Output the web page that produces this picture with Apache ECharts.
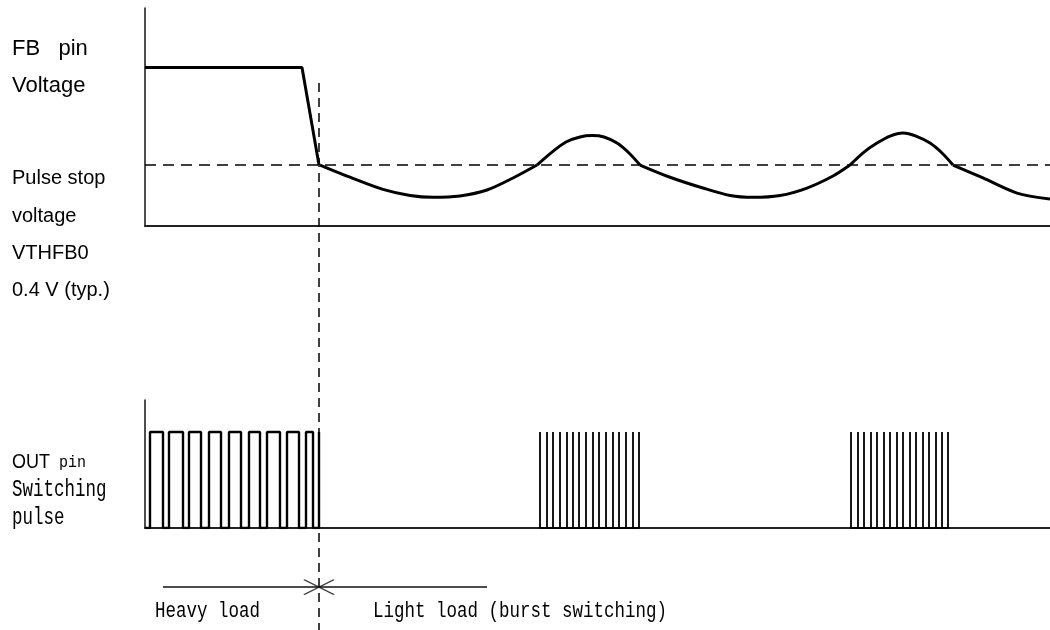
<!DOCTYPE html>
<html>
<head>
<meta charset="utf-8">
<title>FB pin voltage / OUT pin switching</title>
<script src="https://cdn.jsdelivr.net/npm/echarts@6/dist/echarts.min.js"></script>
<style>
html,body{margin:0;padding:0;background:#fff;}
#chart{width:1050px;height:630px;}
</style>
</head>
<body>
<div id="chart"></div>
<script>
// shared time axis (arbitrary units, 0 = start of trace)
var T_MAX = 905;

// FB pin voltage [t, V] - one array per stroke so the corners stay sharp
var fbDrop  = [[0, 1.04], [157, 1.04], [174, 0.40]];
var fbDip1  = [[175, 0.40], [205, 0.32], [238, 0.24], [265, 0.20], [288, 0.188], [315, 0.197], [342, 0.236], [368, 0.315], [392, 0.40]];
var fbBump1 = [[392, 0.40], [407, 0.485], [421, 0.551], [435, 0.584], [447, 0.593], [459, 0.584], [472, 0.544], [484, 0.479], [495, 0.40]];
var fbDip2  = [[495, 0.40], [525, 0.32], [558, 0.249], [585, 0.20], [608, 0.188], [635, 0.20], [662, 0.249], [688, 0.328], [705, 0.40]];
var fbBump2 = [[705, 0.40], [719, 0.485], [732, 0.544], [745, 0.59], [758, 0.61], [771, 0.59], [785, 0.544], [797, 0.479], [808, 0.40]];
var fbDip3  = [[808, 0.40], [838, 0.315], [872, 0.216], [905, 0.177]];
var VTHFB0 = 0.4;     // pulse stop voltage
var FB_MAX = 1.43;

// OUT pin, heavy load: rising / falling edges
var heavyRise = [5, 24, 44, 64, 84, 104, 122, 142, 161, 174];
var heavyFall = [18, 38, 56, 76, 96, 115, 135, 154, 168, 174];
// OUT pin, light load: burst pulses
var burst1 = [395, 402, 408, 415, 422, 428, 434, 441, 448, 454, 461, 468, 474, 481, 488, 494];
var burst2 = [706, 713, 719, 726, 732, 739, 745, 752, 758, 765, 771, 778, 784, 791, 797, 803];
var PULSE_HIGH = 0.75;

// heavy -> light load change
var loadSwitchT = 174;
var loadBar = [18, 342];
var heavyLabel = 'Heavy load';
var lightLabel = 'Light load (burst switching)';

// rows of the annotation layer (page rows, top = 0)
var markerTop = 83, loadBarRow = 587;

var INK = '#000';
var SANS = '"Liberation Sans", Arial, sans-serif';
var MONO = '"Liberation Mono", monospace';

function pulseTrain(rise, fall){
	var pts = [[0, 0]];
	for(var i = 0; i < rise.length; i++){
		pts.push([rise[i], 0], [rise[i], PULSE_HIGH], [fall[i], PULSE_HIGH], [fall[i], 0]);
	}
	return pts;
}
function spikes(ts){
	var pts = [];
	ts.forEach(function(t){
		pts.push([t, 0], [t, PULSE_HIGH], [t, 0]);
	});
	return pts;
}
function axisPair(idx, yMax, inverse, show){
	return {
		x: {gridIndex: idx, type: 'value', min: 0, max: T_MAX, show: show,
			axisLine: {show: show, onZero: false, lineStyle: {color: '#222', width: 2}},
			axisTick: {show: false}, axisLabel: {show: false}, splitLine: {show: false}},
		y: {gridIndex: idx, type: 'value', min: 0, max: yMax, inverse: !!inverse, show: show,
			axisLine: {show: show, onZero: false, lineStyle: {color: '#222', width: 1.6}},
			axisTick: {show: false}, axisLabel: {show: false}, splitLine: {show: false}}
	};
}

var top_ = axisPair(0, FB_MAX, false, true);
var bot_ = axisPair(1, 1, false, true);
var ovl_ = axisPair(2, 630, true, false);

var series = [];
[fbDrop, fbDip1, fbBump1, fbDip2, fbBump2, fbDip3].forEach(function(pts, i){
	series.push({
		type: 'line', xAxisIndex: 0, yAxisIndex: 0, data: pts,
		smooth: i > 0 ? 0.3 : false, symbol: 'none', silent: true, z: 4,
		lineStyle: {color: INK, width: 3}
	});
});
// threshold VTHFB0
series.push({
	type: 'line', xAxisIndex: 0, yAxisIndex: 0, data: [[0, VTHFB0], [T_MAX, VTHFB0]],
	symbol: 'none', silent: true, z: 3,
	lineStyle: {color: INK, width: 1.6, type: [11, 7]}
});
// OUT pin
series.push({
	type: 'line', xAxisIndex: 1, yAxisIndex: 1, data: pulseTrain(heavyRise, heavyFall),
	symbol: 'none', silent: true, lineStyle: {color: INK, width: 2.4}
});
[burst1, burst2].forEach(function(b){
	series.push({
		type: 'line', xAxisIndex: 1, yAxisIndex: 1, data: spikes(b),
		symbol: 'none', silent: true, lineStyle: {color: INK, width: 1.8}
	});
});
// annotation layer
series.push({
	type: 'line', xAxisIndex: 2, yAxisIndex: 2, data: [[loadSwitchT, markerTop], [loadSwitchT, 630]],
	symbol: 'none', silent: true, z: 5,
	lineStyle: {color: INK, width: 1.5, type: [9, 6]}
});
series.push({
	type: 'line', xAxisIndex: 2, yAxisIndex: 2, data: [[loadBar[0], loadBarRow], [loadBar[1], loadBarRow]],
	symbol: 'none', silent: true, lineStyle: {color: '#111', width: 1.5}
});
series.push({
	type: 'scatter', xAxisIndex: 2, yAxisIndex: 2, data: [[loadSwitchT, loadBarRow]],
	symbol: 'path://M0,0L30,15M0,15L30,0', symbolSize: [30, 15], silent: true,
	itemStyle: {color: 'none', borderColor: '#111', borderWidth: 1.5}
});

function sideText(x, y, text, size, family, sy){
	return {type: 'text', x: x, y: y, silent: true, scaleY: sy || 1,
		style: {text: text, fill: INK, fontSize: size, fontFamily: family, verticalAlign: 'middle'}};
}

var option = {
	animation: false,
	backgroundColor: '#fff',
	grid: [
		{left: 145, right: 0, top: 8, height: 218},
		{left: 145, right: 0, top: 400, height: 128},
		{left: 145, right: 0, top: 0, height: 630}
	],
	xAxis: [top_.x, bot_.x, ovl_.x],
	yAxis: [top_.y, bot_.y, ovl_.y],
	series: series,
	graphic: [
		sideText(12, 49, 'FB   pin', 22, SANS),
		sideText(12, 86, 'Voltage', 22, SANS),
		sideText(12, 178, 'Pulse stop', 20, SANS),
		sideText(12, 216, 'voltage', 20, SANS),
		sideText(12, 253, 'VTHFB0', 20, SANS),
		sideText(12, 290, '0.4 V (typ.)', 20, SANS),
		{type: 'text', x: 12, y: 462, silent: true, scaleY: 1.15,
			style: {text: '{a|OUT}{b| pin}', verticalAlign: 'middle', fill: INK,
				rich: {a: {fontFamily: SANS, fontSize: 18, fill: INK}, b: {fontFamily: MONO, fontSize: 15, fill: INK}}}},
		sideText(12, 490, 'Switching', 17.5, MONO, 1.35),
		sideText(12, 518, 'pulse', 17.5, MONO, 1.35),
		sideText(155, 611, heavyLabel, 17.5, MONO, 1.25),
		sideText(373, 611, lightLabel, 17.5, MONO, 1.25)
	]
};

var myChart = echarts.init(document.getElementById('chart'));
myChart.setOption(option);
</script>
</body>
</html>
